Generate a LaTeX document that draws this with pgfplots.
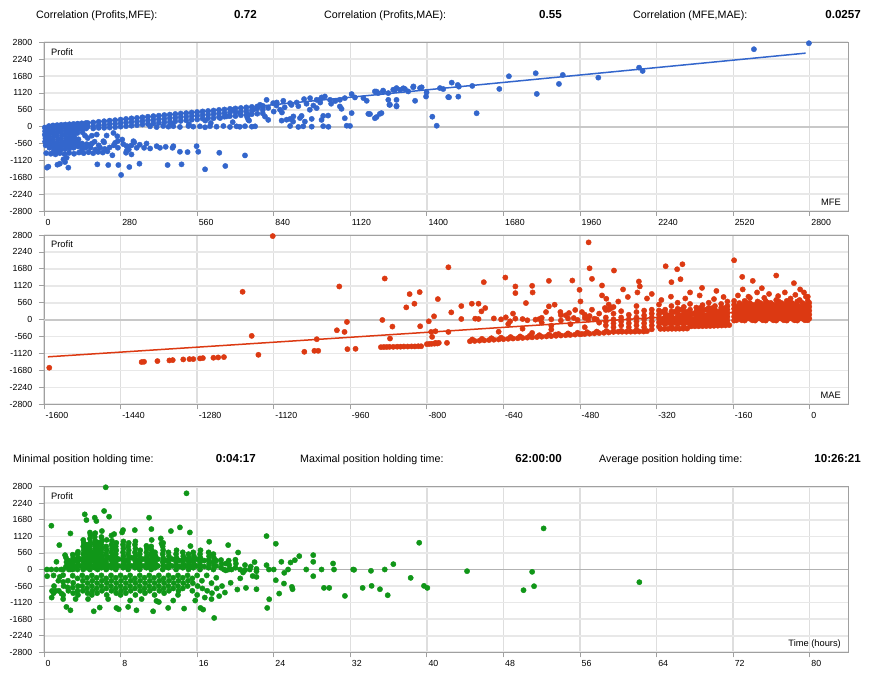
\documentclass[border=0pt]{standalone}
\usepackage{fontspec}
\setmainfont{Liberation Sans}
\usepackage{pgfplots}
\pgfplotsset{compat=1.18}
\definecolor{cblue}{HTML}{3366CC}
\definecolor{cred}{HTML}{DC3912}
\definecolor{cgreen}{HTML}{109618}
\definecolor{gridc}{HTML}{DEDEDE}
\definecolor{gridh}{HTML}{E8E8E8}
\definecolor{borderc}{HTML}{A0A0A0}
\definecolor{zeroc}{HTML}{C8C8C8}
\pgfplotsset{
  mt/.style={
    scale only axis, width=804pt,
    xmajorgrids, ymajorgrids,
    major x grid style={draw=gridc, line width=1.3pt},
    major y grid style={draw=gridh, line width=1.6pt},
    axis line style={draw=borderc, line width=0.9pt},
    tick align=outside, major tick length=5pt,
    tick style={draw=borderc, line width=0.8pt},
    xtick pos=left, ytick pos=left,
    ymin=-2800, ymax=2800,
    ytick={-2800,-2240,-1680,-1120,-560,0,560,1120,1680,2240,2800},
    yticklabels={-2800,-2240,-1680,-1120,-560,0,560,1120,1680,2240,2800},
    tick label style={font=\fontsize{8.8}{10}\selectfont},
    yticklabel style={anchor=east, inner sep=0pt, xshift=-6.6pt},
    xticklabel style={anchor=north west, inner sep=0pt, xshift=1.5pt, yshift=-3pt},
    clip=false,
  },
  dots/.style={only marks, mark=*, mark size=2.65pt, color=#1, mark options={solid, draw=#1, fill=#1, line width=0.4pt}},
}
\newcommand{\lab}{\fontsize{9.3}{11}\selectfont}
\newcommand{\hdr}{\fontsize{10.7}{12}\selectfont}
\newcommand{\hdb}{\fontsize{11.6}{13}\selectfont\bfseries}
\begin{document}
\begin{tikzpicture}
\path[use as bounding box] (0,0) rectangle (870pt,674pt);
\fill[white] (0,0) rectangle (870pt,674pt);
% header row 1
\node[anchor=base west, inner sep=0pt] at (36pt,655pt) {\hdr Correlation (Profits,MFE):};
\node[anchor=base east, inner sep=0pt] at (257pt,655pt) {\hdb 0.72};
\node[anchor=base west, inner sep=0pt] at (324pt,655pt) {\hdr Correlation (Profits,MAE):};
\node[anchor=base east, inner sep=0pt] at (562pt,655pt) {\hdb 0.55};
\node[anchor=base west, inner sep=0pt] at (633pt,655pt) {\hdr Correlation (MFE,MAE):};
\node[anchor=base east, inner sep=0pt] at (861pt,655pt) {\hdb 0.0257};
% header row 2
\node[anchor=base west, inner sep=0pt] at (13pt,211pt) {\hdr Minimal position holding time:};
\node[anchor=base east, inner sep=0pt] at (256pt,211pt) {\hdb 0:04:17};
\node[anchor=base west, inner sep=0pt] at (300pt,211pt) {\hdr Maximal position holding time:};
\node[anchor=base east, inner sep=0pt] at (562pt,211pt) {\hdb 62:00:00};
\node[anchor=base west, inner sep=0pt] at (599pt,211pt) {\hdr Average position holding time:};
\node[anchor=base east, inner sep=0pt] at (861pt,211pt) {\hdb 10:26:21};

% ================= MFE =================
\begin{axis}[mt, at={(44pt,463pt)}, anchor=south west, height=168.7pt,
  xmin=0, xmax=2940,
  xtick={0,280,560,840,1120,1400,1680,1960,2240,2520,2800},
  xticklabels={0,280,560,840,1120,1400,1680,1960,2240,2520,2800}]
\draw[zeroc, line width=1.8pt] (axis cs:0,0) -- (axis cs:2940,0);
\addplot[dots=cblue] coordinates {
(3,-30)(4,-150)(3,-270)(5,-390)(4,-500)(6,-620)(8,-880)(18,20)(17,-100)(20,-220)(18,-340)(19,-460)(21,-580)(20,-700)(25,-900)(33,40)(34,-80)(32,-200)(35,-320)(33,-440)(36,-560)(34,-680)(35,-820)(42,-920)(48,50)(50,-60)(49,-180)(47,-300)(51,-420)(49,-540)(50,-660)(48,-780)(58,-880)(63,60)(64,-40)(62,-160)(65,-280)(63,-400)(66,-520)(64,-640)(62,-760)(75,-910)(78,70)(80,-20)(79,-140)(77,-260)(81,-380)(79,-500)(80,-620)(78,-740)(92,-870)(93,80)(95,0)(94,-120)(92,-240)(96,-360)(94,-480)(95,-600)(93,-720)(110,-900)(108,90)(110,10)(109,-100)(107,-220)(111,-340)(109,-460)(110,-580)(108,-700)(128,-860)(123,100)(125,20)(124,-90)(122,-210)(126,-420)(124,-540)(125,-660)(145,-880)(138,110)(140,30)(139,-80)(141,-190)(139,-560)(140,-680)(138,-790)(163,-850)(153,120)(155,40)(154,-60)(156,-580)(152,-700)(180,-880)(198,-840)(215,-860)(232,-820)(170,-700)(188,-760)(205,-700)(222,-740)(240,-690)(170,-600)(200,-620)(185,-500)(160,-380)(175,-300)(150,-300)(255,-620)(270,-700)(290,-580)(305,-660)(320,-620)(250,-950)(310,-760)(175,-560)(220,-520)(270,-480)(330,-520)(350,-600)
(160,120)(160,0)(180,140)(180,20)(180,-60)(200,160)(200,40)(200,-40)(220,180)(220,60)(220,-40)(240,200)(240,80)(240,-30)(260,215)(260,95)(260,-20)(280,235)(280,115)(280,0)(300,255)(300,135)(300,15)(320,275)(320,155)(320,30)(340,290)(340,170)(340,50)(360,310)(360,190)(360,70)(380,330)(380,210)(380,90)(400,350)(400,230)(400,110)(420,365)(420,245)(420,125)(440,385)(440,265)(460,400)(460,280)(460,150)(480,420)(480,300)(500,435)(500,315)(500,190)(520,450)(520,330)(540,470)(540,350)(560,485)(560,365)(560,240)(580,505)(580,385)(600,520)(600,400)(620,535)(620,415)(620,280)(640,555)(640,435)(660,570)(660,450)(680,590)(680,470)(700,605)(700,485)(700,350)(720,620)(720,500)(740,640)(740,520)(760,655)(760,535)(780,670)(800,690)(800,560)
(440,145)(480,180)(520,210)(540,230)(580,265)(600,280)(640,315)(660,330)(680,350)(720,380)(740,400)(760,415)(780,430)(800,440)(470,100)(530,80)(610,120)(690,150)(750,200)(590,200)
(388,10)(412,-15)(436,20)(455,0)(473,15)(497,-10)(528,20)(546,0)(570,10)(589,-20)(607,15)(631,0)(656,20)(680,-10)(704,10)(716,-5)(735,15)(760,0)(772,10)(900,20)(930,-10)(948,10)(979,0)(1021,15)(1040,-5)(1107,30)
(11,-1361)(16,-1328)(49,-1263)(58,-1230)(77,-1175)(89,-1361)(83,-1032)(71,-1087)(195,-1252)(235,-1274)(272,-1274)(282,-1603)(312,-1340)(349,-1230)(452,-1274)(503,-1252)(589,-1416)(663,-1307)(735,-955)(641,-867)(564,-834)(558,-648)(525,-845)(497,-834)(470,-703)(445,-670)(412,-648)(375,-560)(339,-703)(300,-867)(302,-648)(286,-428)(268,-318)(254,-209)(229,-296)(193,-263)(217,-483)(260,-538)(327,-483)(366,-703)(388,-725)(424,-703)(473,-648)(302,-812)(320,-922)
(743,313)(808,334)(820,224)(869,200)(900,257)(911,167)(942,357)(954,167)(979,257)(1015,224)(1021,357)(1039,367)(1088,591)(1100,280)(1119,23)(1186,424)(1210,280)(1228,424)(1265,725)(1289,691)(1357,858)(1420,330)(1436,30)(1460,1249)(1478,982)
(851,802)(875,858)(900,780)(924,802)(951,914)(973,947)(997,891)(1015,969)(1027,1002)(1082,891)(1100,947)(1125,1081)(1137,969)(1168,947)(1180,858)(1210,1169)(1222,1114)(1240,1169)(1259,1114)(1277,1225)(1289,1281)(1302,1225)(1320,1247)(1332,1169)(1351,1336)(1375,1281)(1399,1136)(1448,1281)
(1192,417)(1216,318)(1234,450)(1263,725)(1289,670)(1289,889)(1259,889)(1216,1164)(1240,1197)(1283,1219)(1314,1274)(1350,1307)(1381,1307)(1397,999)(1125,450)(1082,670)(1046,889)(1009,889)(997,615)(972,560)(936,285)(912,340)(887,230)(863,560)(838,780)(814,889)(790,725)(765,560)(747,395)(747,230)(717,450)(692,560)(668,340)(644,285)
(1481,976)(1491,1461)(1513,1384)(1517,1328)(1515,996)(1566,1351)(1582,445)(1665,1252)(1700,1673)(1798,1773)(1802,1086)(1883,1418)(1897,1716)(2027,1627)(2176,1959)(2189,1849)(2596,2570)(2797,2769)
(820,620)(850,700)(880,640)(905,720)(930,680)(960,760)(985,700)(1010,800)(1050,760)(1065,850)(840,500)(870,470)(800,650)(780,600)
};
\addplot[cblue, line width=1.5pt, no marks] coordinates {(0,-10)(2785,2440)};
\node[anchor=west, inner sep=0pt] at (rel axis cs:0,1) [xshift=7pt, yshift=-9.4pt] {\lab Profit};
\node[anchor=east, inner sep=0pt] at (rel axis cs:1,0) [xshift=-7pt, yshift=8.7pt] {\lab MFE};
\end{axis}

% ================= MAE =================
\begin{axis}[mt, at={(44pt,269.7pt)}, anchor=south west, height=169.3pt,
  xmin=-1600, xmax=80,
  xtick={-1600,-1440,-1280,-1120,-960,-800,-640,-480,-320,-160,0},
  xticklabels={-1600,-1440,-1280,-1120,-960,-800,-640,-480,-320,-160,0}]
\draw[zeroc, line width=1.8pt] (axis cs:-1600,0) -- (axis cs:80,0);
\addplot[dots=cred] coordinates {
(-1589,-1591)(-1396,-1404)(-1391,-1393)(-1363,-1371)(-1338,-1349)(-1331,-1338)(-1309,-1316)(-1296,-1305)(-1288,-1305)(-1274,-1283)(-1268,-1272)(-1246,-1261)(-1236,-1250)(-1224,-1239)(-1185,921)(-1166,-537)(-1152,-1163)(-1122,2764)(-1056,-1064)(-1035,-1031)(-1027,-1031)(-1030,-647)(-988,-351)(-983,1097)(-972,-406)(-967,-77)(-966,-976)(-949,-965)(-893,-11)(-888,1360)(-877,-625)(-872,-230)(-843,406)(-836,845)(-826,527)(-815,911)(-814,-219)(-796,-55)(-791,-406)(-789,-570)(-785,110)
(-896,-910)(-890,-905)(-884,-905)(-878,-900)(-870,-900)(-862,-895)(-855,-895)(-848,-890)(-840,-890)(-832,-885)(-825,-885)(-818,-880)(-812,-880)(-800,-810)(-795,-805)(-790,-800)(-784,-795)(-778,-790)(-782,-768)(-775,-768)(-758,-768)
(-782,-384)(-755,-406)(-777,680)(-749,241)(-728,450)(-728,22)(-706,527)(-692,527)(-699,33)(-692,22)(-686,274)(-678,384)(-635,77)(-630,-143)(-626,-55)(-615,33)(-593,549)(-573,0)(-565,20)(-551,252)(-545,439)(-533,494)(-521,252)(-510,143)(-503,219)(-493,55)(-479,603)(-476,252)(-470,165)(-463,0)(-455,329)(-450,30)(-445,10)(-434,801)(-428,384)(-425,691)(-420,329)(-415,380)(-580,-439)(-531,-494)(-503,-494)(-476,-472)
(-755,1733)(-681,1240)(-636,1393)(-615,1097)(-615,878)(-580,1119)(-579,900)(-545,1283)(-496,1294)(-481,987)(-462,2556)(-460,1700)(-455,1349)(-434,1130)(-409,1624)(-357,1262)(-301,1766)(-289,1240)(-277,1667)(-270,1338)(-266,1832)(-158,1964)(-141,1415)(-119,1283)(-70,1459)(-33,1207)
(-660,40)(-645,10)(-600,20)(-590,-20)(-560,60)(-540,10)(-520,-30)(-505,40)(-485,-10)(-470,60)
(-560,-100)(-540,-200)(-520,150)(-500,-150)(-490,320)(-470,-250)(-460,120)(-440,-100)(-440,200)(-600,-300)(-620,200)(-650,-400)(-540,-330)
(-710,-715)(-700,-705)(-690,-695)(-680,-685)(-670,-675)(-660,-665)(-650,-655)(-640,-645)(-630,-635)(-620,-625)(-610,-615)(-600,-605)(-590,-595)(-580,-585)(-570,-575)(-560,-565)(-550,-555)(-540,-545)(-530,-535)(-520,-525)(-510,-515)(-500,-505)(-490,-495)(-480,-485)(-470,-475)(-460,-465)(-450,-455)(-440,-445)(-430,-435)(-420,-425)
(-705,-655)(-685,-635)(-665,-615)(-645,-595)(-625,-575)(-605,-555)(-585,-535)(-565,-515)(-545,-495)(-525,-475)(-505,-455)(-485,-435)(-465,-415)(-445,-395)(-425,-375)
(-410,-405)(-400,-400)(-392,-400)(-383,-400)(-374,-398)(-365,-396)(-356,-394)(-347,-392)(-340,-380)(-346,-362)
(-312,-306)(-304,-306)(-296,-304)(-288,-303)(-280,-302)(-272,-300)(-264,-298)(-256,-296)(-248,-222)(-240,-220)(-232,-218)(-224,-215)(-216,-212)(-208,-210)(-200,-205)(-192,-200)(-184,-195)(-176,-190)(-168,-180)
(-158,-30)(-158,100)(-158,230)(-158,360)(-158,490)(-158,620)(-147,30)(-147,160)(-147,290)(-147,420)(-147,550)(-136,-30)(-136,100)(-136,230)(-136,360)(-136,490)(-136,620)(-125,30)(-125,160)(-125,290)(-125,420)(-125,550)(-125,720)(-114,-30)(-114,100)(-114,230)(-114,360)(-114,490)(-103,30)(-103,160)(-103,290)(-103,420)(-103,550)(-92,-30)(-92,100)(-92,230)(-92,360)(-92,490)(-92,620)(-81,30)(-81,160)(-81,290)(-81,420)(-81,550)(-70,-30)(-70,100)(-70,230)(-70,360)(-70,490)(-70,650)(-59,30)(-59,160)(-59,290)(-59,420)(-59,550)(-48,-30)(-48,100)(-48,230)(-48,360)(-48,490)(-48,620)(-37,30)(-37,160)(-37,290)(-37,420)(-37,550)(-26,-30)(-26,100)(-26,230)(-26,360)(-26,490)(-26,600)(-15,30)(-15,160)(-15,290)(-15,420)(-15,550)(-4,-20)(-4,100)(-4,230)(-4,360)(-4,480)(-4,620)(-4,760)
(-153,-20)(-153,35)(-153,165)(-153,295)(-153,425)(-142,-20)(-142,100)(-142,230)(-142,360)(-142,490)(-131,35)(-131,165)(-131,295)(-131,425)(-131,555)(-120,-20)(-120,100)(-120,230)(-120,360)(-120,490)(-109,35)(-109,165)(-109,295)(-109,425)(-109,600)(-98,-20)(-98,100)(-98,230)(-98,360)(-98,490)(-87,35)(-87,165)(-87,295)(-87,425)(-87,555)(-76,-20)(-76,100)(-76,230)(-76,360)(-76,490)(-65,35)(-65,165)(-65,295)(-65,425)(-65,600)(-54,-20)(-54,100)(-54,230)(-54,360)(-54,490)(-43,35)(-43,165)(-43,295)(-43,425)(-43,555)(-32,-20)(-32,100)(-32,230)(-32,360)(-32,490)(-21,35)(-21,165)(-21,295)(-21,425)(-21,650)(-10,-20)(-10,100)(-10,230)(-10,360)(-10,490)(-1,35)(-1,165)(-1,295)(-1,425)(-1,555)
(-150,800)(-128,760)(-110,900)(-95,720)(-85,850)(-66,780)(-52,900)(-40,700)(-30,820)(-12,900)(-8,760)(-140,1000)(-100,1040)(-20,1000)
(-172,-150)(-172,-30)(-172,90)(-172,210)(-172,330)(-172,450)(-172,600)(-185,-90)(-185,30)(-185,150)(-185,270)(-185,390)(-185,520)(-198,-150)(-198,-30)(-198,90)(-198,210)(-198,330)(-198,450)(-211,-90)(-211,30)(-211,150)(-211,270)(-211,390)(-211,560)(-224,-150)(-224,-30)(-224,90)(-224,210)(-224,330)(-224,480)(-237,-90)(-237,30)(-237,150)(-237,270)(-237,400)(-250,-150)(-250,-30)(-250,90)(-250,210)(-250,330)(-250,520)(-263,-230)(-263,-90)(-263,30)(-263,150)(-263,270)(-263,420)(-276,-150)(-276,-30)(-276,90)(-276,210)(-276,360)(-276,560)(-289,-230)(-289,-90)(-289,30)(-289,150)(-289,270)(-289,450)(-302,-150)(-302,-30)(-302,90)(-302,210)(-302,330)(-315,-230)(-315,-90)(-315,30)(-315,170)(-315,300)(-315,500)
(-178,-100)(-178,20)(-178,140)(-178,260)(-178,380)(-191,-100)(-191,20)(-191,140)(-191,260)(-204,-100)(-204,20)(-204,140)(-204,260)(-204,380)(-217,-100)(-217,20)(-217,140)(-217,330)(-230,-100)(-230,20)(-230,140)(-230,260)(-230,380)(-243,-100)(-243,20)(-243,200)(-256,-100)(-256,20)(-256,140)(-256,260)(-269,-100)(-269,20)(-269,140)(-269,330)(-282,-100)(-282,20)(-282,260)(-295,-100)(-295,20)(-295,140)(-308,-100)(-308,20)(-308,260)
(-180,750)(-200,680)(-230,800)(-260,700)(-290,760)(-310,650)(-250,900)(-195,950)(-330,850)(-225,1050)
(-330,-320)(-330,-190)(-330,-60)(-330,70)(-330,200)(-330,330)(-346,-250)(-346,-120)(-346,10)(-346,140)(-346,300)(-362,-340)(-362,-190)(-362,-60)(-362,70)(-362,250)(-362,450)(-378,-250)(-378,-120)(-378,10)(-378,160)(-394,-370)(-394,-190)(-394,-60)(-394,70)(-394,280)(-410,-390)(-410,-250)(-410,-120)(-410,10)(-410,200)(-410,420)(-426,-190)(-426,-60)(-426,70)(-426,320)
(-400,600)(-380,750)(-360,900)(-340,700)(-420,500)(-355,1100)(-390,1000)
};
\addplot[cred, line width=1.5pt, no marks] coordinates {(-1592,-1230)(0,400)};
\node[anchor=west, inner sep=0pt] at (rel axis cs:0,1) [xshift=7pt, yshift=-9.4pt] {\lab Profit};
\node[anchor=east, inner sep=0pt] at (rel axis cs:1,0) [xshift=-7pt, yshift=8.7pt] {\lab MAE};
\end{axis}

% ================= Time =================
\begin{axis}[mt, at={(44pt,21.7pt)}, anchor=south west, height=165.6pt,
  xmin=0, xmax=84,
  xtick={0,8,16,24,32,40,48,56,64,72,80},
  xticklabels={0,8,16,24,32,40,48,56,64,72,80}]
\draw[gray!60, line width=1.1pt] (axis cs:0,0) -- (axis cs:84,0);
\addplot[dots=cgreen] coordinates {
(2.3,100)(2.35,250)(2.3,400)(2.6,0)(2.65,150)(2.6,300)
(3.0,0)(3.05,130)(3.0,260)(3.05,390)(3.0,500)
(3.5,0)(3.55,130)(3.5,260)(3.55,390)(3.5,520)(3.55,600)
(4.1,0)(4.15,130)(4.1,260)(4.15,390)(4.1,520)(4.15,650)(4.1,780)(4.15,900)(4.1,1000)
(4.5,60)(4.55,190)(4.5,320)(4.55,450)(4.5,580)(4.55,710)(4.5,840)
(4.8,0)(4.85,130)(4.8,260)(4.85,390)(4.8,520)(4.85,650)(4.8,780)(4.85,910)(4.8,1040)(4.85,1170)(4.8,1250)
(5.3,60)(5.35,190)(5.3,320)(5.35,450)(5.3,580)(5.35,710)(5.3,840)(5.35,970)(5.3,1100)(5.35,1230)
(5.6,0)(5.65,130)(5.6,260)(5.65,390)(5.6,520)(5.65,650)(5.6,780)(5.65,910)
(6.0,60)(6.05,190)(6.0,320)(6.05,450)(6.0,580)(6.05,710)(6.0,840)(6.05,970)(6.0,1100)(6.05,1300)
(6.5,0)(6.55,130)(6.5,260)(6.55,390)(6.5,520)(6.55,650)(6.5,780)(6.55,1000)
(7.05,60)(7.1,190)(7.05,320)(7.1,450)(7.05,580)(7.1,710)(7.05,840)(7.1,970)(7.05,1150)
(7.5,0)(7.55,130)(7.5,260)(7.55,390)(7.5,520)(7.55,650)(7.5,780)(7.55,900)
(8.26,60)(8.3,190)(8.26,320)(8.3,450)(8.26,580)(8.3,710)(8.26,840)(8.3,950)
(8.8,0)(8.85,130)(8.8,260)(8.85,390)(8.8,520)(8.85,650)(8.8,780)(8.85,900)
(9.5,60)(9.55,190)(9.5,320)(9.55,450)(9.5,580)(9.55,710)(9.5,840)(9.55,950)
(10.0,0)(10.05,130)(10.0,260)(10.05,390)(10.0,520)(10.05,650)
(10.7,60)(10.75,190)(10.7,320)(10.75,450)(10.7,580)(10.75,710)(10.7,800)
(11.2,0)(11.25,130)(11.2,260)(11.25,390)(11.2,520)(11.25,650)(11.2,780)(11.25,1000)
(11.6,60)(11.65,190)(11.6,320)(11.65,450)(11.6,580)
(12.4,0)(12.45,130)(12.4,260)(12.45,390)(12.4,520)(12.45,650)(12.4,780)(12.45,900)
(13.0,60)(13.05,190)(13.0,320)(13.05,450)(13.0,580)
(13.8,0)(13.85,130)(13.8,260)(13.85,390)(13.8,520)(13.85,650)
(14.5,60)(14.55,190)(14.5,320)(14.55,450)(14.5,580)
(15.1,0)(15.15,130)(15.1,260)(15.15,390)(15.1,520)
(15.6,60)(15.65,190)(15.6,320)(15.65,450)(15.6,580)
(16.3,0)(16.35,130)(16.3,260)(16.35,390)(16.3,520)(16.35,650)
(17.2,60)(17.25,190)(17.2,320)(17.25,450)(17.2,580)
(17.7,0)(17.75,130)(17.7,260)(17.75,390)(17.7,520)
(18.5,60)(18.55,190)(18.5,320)(19.3,0)(19.35,150)(19.3,300)(20.0,60)(20.05,200)(20.0,330)
(3.25,100)(3.25,300)(3.8,120)(3.8,350)(5.05,100)(5.05,300)(5.05,500)(5.8,120)(5.8,350)(6.25,100)(6.25,300)(6.75,120)(6.75,400)(7.3,100)(7.3,300)(7.8,120)(7.8,350)(8.5,100)(8.5,300)(9.15,120)(9.15,400)(9.8,100)(9.8,300)(10.35,120)(10.35,350)(10.95,100)(10.95,300)(11.9,120)(11.9,350)(12.7,100)(12.7,300)(13.4,120)(13.4,350)(14.15,100)(14.15,300)(14.8,120)(14.8,350)(15.35,100)(15.35,300)(15.95,120)(15.95,350)(16.75,100)(16.75,300)(18.0,120)(18.0,300)
(1.0,-200)(1.05,-560)(1.0,-800)(1.5,-380)(1.55,-720)(2.0,-190)(2.05,-560)(2.0,-860)(2.5,-380)(2.55,-720)(2.45,-600)
(3.0,-210)(3.05,-450)(3.0,-610)(3.05,-800)(3.5,-300)(3.55,-560)(3.5,-720)(3.55,-860)
(4.0,-200)(4.05,-380)(4.0,-560)(4.05,-720)(4.5,-280)(4.55,-460)(4.5,-640)(4.55,-800)
(5.0,-200)(5.05,-380)(5.0,-560)(5.05,-720)(5.0,-860)(5.5,-280)(5.55,-460)(5.5,-640)(5.55,-800)
(6.0,-200)(6.05,-380)(6.0,-560)(6.05,-720)(6.5,-300)(6.55,-460)(6.5,-640)(6.55,-860)
(7.0,-200)(7.05,-380)(7.0,-560)(7.05,-720)(7.5,-280)(7.55,-460)(7.5,-640)(7.55,-800)
(8.0,-200)(8.05,-380)(8.0,-560)(8.05,-720)(8.0,-860)(8.5,-280)(8.55,-460)(8.5,-640)(8.55,-800)
(9.0,-200)(9.05,-380)(9.0,-560)(9.05,-720)(9.5,-300)(9.55,-460)(9.5,-640)(9.55,-860)
(10.0,-200)(10.05,-380)(10.0,-560)(10.05,-720)(10.5,-280)(10.55,-460)(10.5,-640)(10.55,-800)
(11.0,-200)(11.05,-380)(11.0,-560)(11.05,-720)(11.5,-280)(11.55,-460)(11.5,-640)(11.55,-860)
(12.0,-200)(12.05,-380)(12.0,-560)(12.05,-720)(12.5,-300)(12.55,-460)(12.5,-640)(12.55,-800)
(13.0,-200)(13.05,-380)(13.0,-560)(13.05,-720)(13.5,-280)(13.55,-460)(13.5,-640)
(14.0,-200)(14.05,-380)(14.0,-560)(14.05,-720)(14.0,-860)(14.5,-280)(14.55,-460)(14.5,-640)
(15.0,-200)(15.05,-380)(15.0,-560)(15.5,-300)(15.55,-460)(15.5,-720)
(16.0,-200)(16.05,-560)(16.0,-860)(16.5,-380)(16.55,-640)(17.0,-200)(17.05,-720)(17.5,-460)(17.55,-800)(18.0,-280)(18.05,-640)
(0.3,0)(0.77,0)(1.3,0)(1.8,0)(2.0,0)(2.8,0)(18.8,0)(19.0,-30)(19.6,0)(20.5,0)(21.0,-20)(21.5,0)(22.2,20)(22.2,-60)(23.5,0)(24.0,0)(25.5,0)(27.4,0)(29.0,0)(30.3,0)(32.3,0)(32.4,-10)(35.6,0)
(0.33,-226)(0.77,1480)(0.84,-723)(1.3,260)(1.23,-723)(1.6,825)(1.65,-249)(1.83,-814)(2.0,-418)(2.2,486)(2.34,-1266)(2.76,-1379)(2.76,1220)(5.2,-1413)(5.82,-1288)(7.57,-1300)(7.81,-1345)(8.79,-1266)(9.66,-1379)(11.4,-1413)(12.97,-1300)(14.64,-1322)(16.35,-1300)(16.63,-1356)(17.78,-1639)
(4.26,1865)(4.43,1672)(5.3,1752)(5.47,1639)(6.28,1978)(6.45,2780)(6.8,1785)(7.33,1198)(8.16,1254)(8.26,1333)(9.49,1333)(10.98,1752)(11.22,1367)(12.2,1051)(12.27,881)(13.26,1300)(14.2,1424)(14.89,2576)(15.24,1254)(15.3,791)(17.26,938)(19.24,825)(20.28,576)
(23.25,1130)(24.22,870)(23.25,147)(24.22,-362)(24.57,-814)(25.07,-475)(23.53,-1006)(23.32,-1300)(25.97,-667)(25.76,237)(26.67,452)(26.21,316)(28.13,486)(28.13,260)(28.13,-226)(29.25,-622)(29.8,-622)(30.2,203)(31.44,-893)(33.29,-622)(34.16,-45)(34.23,-554)(35.1,-667)(35.91,-870)(36.5,181)(38.31,-283)(39.2,904)(39.7,-554)(40.05,-622)(44.2,-56)(50.1,-700)(51.0,-79)(51.2,-565)(52.2,1390)(62.2,-429)
(20.2,-678)(21.1,-622)(22.2,-249)(22.2,-667)(24.8,260)(25.1,-113)(25.9,-588)(18.6,-560)(19.5,-450)(20.5,-300)(21.0,150)(21.6,100)(19.0,200)(20.8,-100)(21.8,-220)(22.0,250)(18.3,-900)(18.9,-780)(17.5,-1000)(16.8,-950)(15.8,-1050)(13.5,-1050)(12.0,-1100)(10.2,-1000)(9.0,-1050)(6.7,-1000)(4.6,-1000)(3.3,-1000)(2.0,-1000)(0.8,-950)(11.75,-1062)
};
\node[anchor=west, inner sep=0pt] at (rel axis cs:0,1) [xshift=7pt, yshift=-9.4pt] {\lab Profit};
\node[anchor=east, inner sep=0pt] at (rel axis cs:1,0) [xshift=-7pt, yshift=8.7pt] {\lab Time (hours)};
\end{axis}
\end{tikzpicture}
\end{document}
